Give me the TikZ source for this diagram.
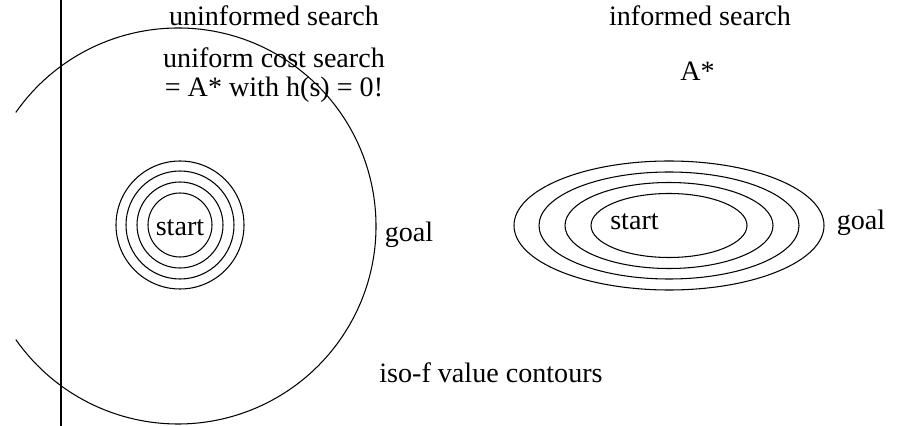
\documentclass[tikz,border=0pt]{standalone}
\usepackage{fontspec}
\setmainfont{Liberation Serif}

\begin{document}
\begin{tikzpicture}[
                    x=0.02cm,
                    y=0.02cm,
                    line width=0.6pt,
                    every node/.style={font=\fontsize{16}{19}\selectfont,inner sep=0pt,anchor=base}
                ]
                \tikzstyle{contour}=[draw=black]
                \useasboundingbox (0,0) rectangle (903,426);

                % uninformed side
                \coordinate (top) at (61,426);
                \coordinate (bot) at (61,0);
                \draw (top) -- (bot);

                \coordinate (U) at (180,201);
                \coordinate (G) at (178,200);
                \node (us) at (274,400) {uninformed search};
                \node (ucs) at (274,358) {uniform cost search};
                \node (hz) at (274,329) {= A* with h(s) = 0!};
                \node (s1) at (180,190) {start};
                \node (g1) at (409,184) {goal};
                \node (iso) at (491,43) {iso-f value contours};

                \foreach \r in {32,43,54,64}
                    \path[contour] (U) circle[radius=\r];
                \path[contour] (G) ++(145:198) arc[start angle=145,end angle=-145,radius=198];

                % informed side
                \coordinate (I) at (669,200.5);
                \node (is) at (700,400) {informed search};
                \node (as) at (697.5,345) {A*};
                \node (s2) at (634.5,196) {start};
                \node (g2) at (861,196) {goal};

                \foreach \a/\b in {78/32,104/43,130/53.5,155/64.5}
                    \path[contour] (I) ellipse[x radius=\a,y radius=\b];

            \end{tikzpicture}
\end{document}
